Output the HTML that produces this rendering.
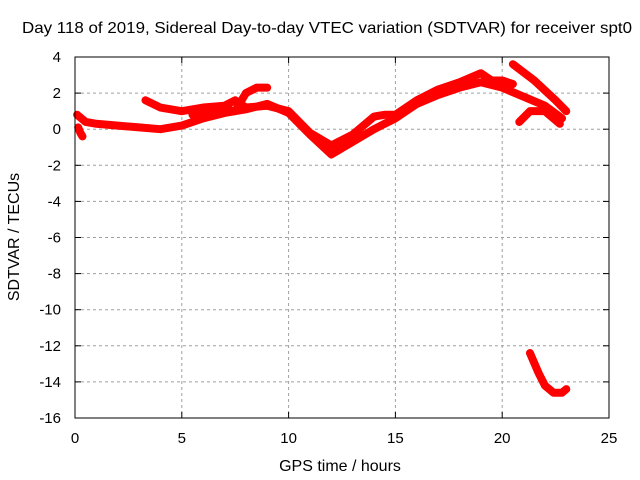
<!DOCTYPE html>
<html><head><meta charset="utf-8"><style>
body{margin:0;background:#fff}
svg{display:block;font-family:"Liberation Sans",sans-serif}
</style></head><body>
<svg id="chart" width="640" height="480">
<rect width="640" height="480" fill="#fff"/>
<text x="327" y="33" text-anchor="middle" font-size="16" textLength="610" lengthAdjust="spacingAndGlyphs">Day 118 of 2019, Sidereal Day-to-day VTEC variation (SDTVAR) for receiver spt0</text>
<g id="grid"></g><g id="ticks"></g><g id="series"></g>
<rect x="75" y="57" width="534" height="361" fill="none" stroke="#000" stroke-width="1"/>
<text x="340" y="471" text-anchor="middle" font-size="16">GPS time / hours</text>
<text transform="translate(19,237) rotate(-90)" text-anchor="middle" font-size="16">SDTVAR / TECUs</text>
</svg>
<script>
const xTicks=[0,5,10,15,20,25];
const yTicks=[4,2,0,-2,-4,-6,-8,-10,-12,-14,-16];
const trackAx=[0.1,0.5,1,2,3,4,5,6,7,8,9,10,11,12,13,14,15,16,17,18,19,20,21,22,22.8];
const trackAy=[0.8,0.4,0.3,0.2,0.1,0.0,0.2,0.6,0.9,1.1,1.4,0.9,-0.3,-1.4,-0.7,0.0,0.6,1.4,1.9,2.3,2.6,2.3,1.8,1.3,0.6];
const trackBx=[3.3,4,5,6,7,7.5,8,9,10,11,12,13,14,14.5,15,16,17,18,19,19.5,20,20.5];
const trackBy=[1.6,1.2,1.0,1.2,1.3,1.6,1.2,1.3,1.0,-0.2,-0.9,-0.3,0.7,0.8,0.8,1.6,2.2,2.6,3.1,2.7,2.7,2.5];
const trackCx=[5.5,6.5,7.5,8,8.5,9];
const trackCy=[0.8,1.2,1.0,2.0,2.3,2.3];
const trackDx=[20.5,21.5,22.5,23];
const trackDy=[3.6,2.7,1.6,1.0];
const trackEx=[20.8,21.3,22,22.7];
const trackEy=[0.4,1.0,1.0,0.3];
const trackFx=[21.3,21.7,22,22.4,22.8,23];
const trackFy=[-12.4,-13.5,-14.2,-14.6,-14.6,-14.4];
const trackGx=[0.15,0.25,0.35];
const trackGy=[0.1,-0.2,-0.4];
const X=v=>75+v*534/25, Y=v=>57+(4-v)*361/20;
const NS="http://www.w3.org/2000/svg";
const grid=document.getElementById('grid'),ticks=document.getElementById('ticks'),ser=document.getElementById('series');
function mk(tag,attrs,parent){const e=document.createElementNS(NS,tag);for(const k in attrs)e.setAttribute(k,attrs[k]);parent.appendChild(e);return e;}
xTicks.forEach(t=>{
 if(t>0&&t<25){const g=mk('line',{x1:X(t),x2:X(t),y1:57,y2:418,stroke:'#a0a0a0','stroke-dasharray':'3,3'},grid);
 
 }
 const l=mk('text',{x:X(t),y:443,'text-anchor':'middle','font-size':15},ticks);l.textContent=t;
 
 
 mk('line',{x1:X(t),x2:X(t),y1:418,y2:412,stroke:'#000'},ticks);mk('line',{x1:X(t),x2:X(t),y1:57,y2:63,stroke:'#000'},ticks);
});
yTicks.forEach(t=>{
 if(t<4&&t>-16){const g=mk('line',{x1:75,x2:609,y1:Y(t),y2:Y(t),stroke:'#a0a0a0','stroke-dasharray':'3,3'},grid);
 
 }
 const l=mk('text',{x:61,y:Y(t)+5,'text-anchor':'end','font-size':15},ticks);l.textContent=t;
 
 
 mk('line',{x1:75,x2:81,y1:Y(t),y2:Y(t),stroke:'#000'},ticks);mk('line',{x1:609,x2:603,y1:Y(t),y2:Y(t),stroke:'#000'},ticks);
});
[[trackAx,trackAy,'a'],[trackBx,trackBy,'b'],[trackCx,trackCy,'c'],[trackDx,trackDy,'d'],[trackEx,trackEy,'e'],[trackFx,trackFy,'f'],[trackGx,trackGy,'g']].forEach(([xs,ys,n])=>{
 const p=mk('polyline',{points:xs.map((x,i)=>X(x)+','+Y(ys[i])).join(' '),fill:'none',stroke:'#f00','stroke-width':8,'stroke-linejoin':'round','stroke-linecap':'round'},ser);
 
 
});
</script>
</body></html>
